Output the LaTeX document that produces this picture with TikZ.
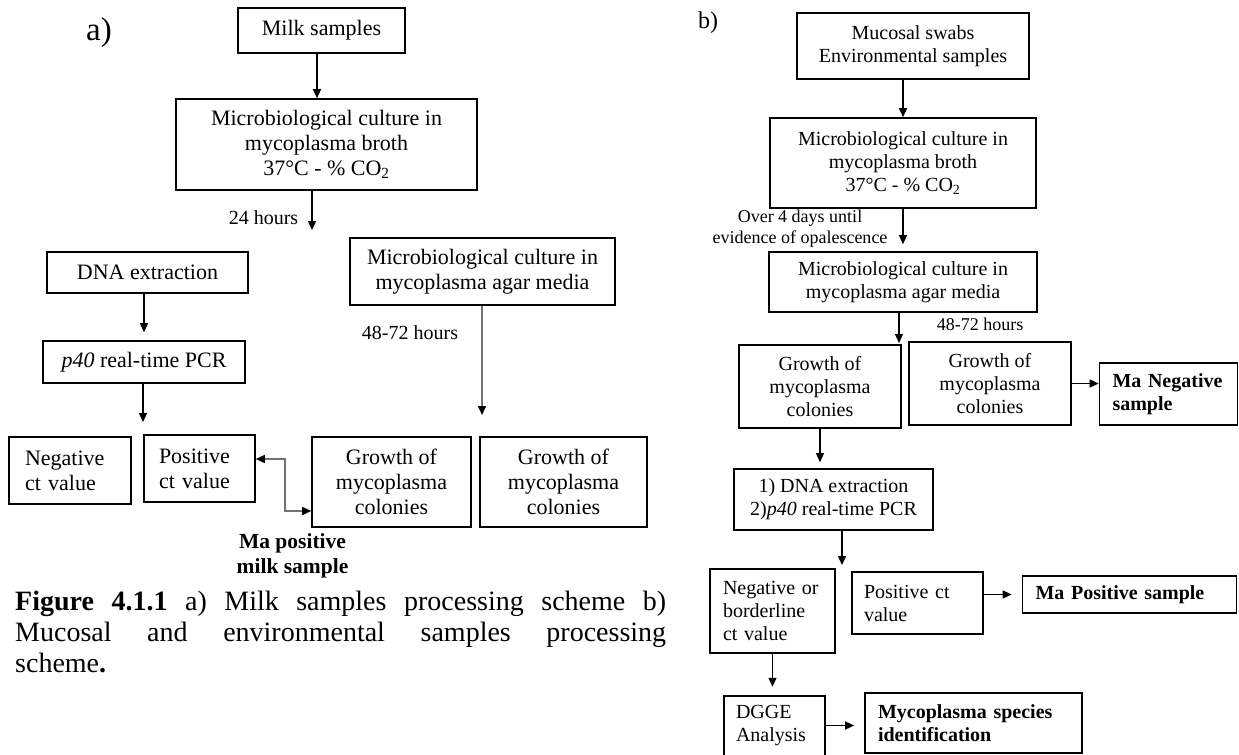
\documentclass[tikz,border=0pt]{standalone}
\usepackage{fontspec}
\setmainfont{Liberation Serif}
\usetikzlibrary{arrows.meta,calc}
\newcommand\szA{\fontsize{22bp}{25bp}\selectfont}
\newcommand\szB{\fontsize{20bp}{23bp}\selectfont}
\newcommand\szL{\fontsize{20bp}{22bp}\selectfont}
\newcommand\szS{\fontsize{18bp}{21bp}\selectfont}
\newcommand\szC{\fontsize{28bp}{31bp}\selectfont}
\begin{document}
\begin{tikzpicture}[x=1bp,y=-1bp,
  box/.style={draw, line width=1.6bp, inner sep=0pt, align=center},
  boxa/.style={box, font=\szA},
  boxb/.style={box, font=\szB},
  lbox/.style={draw, line width=1.6bp, inner ysep=0pt, align=left},
  arr/.style={-{Triangle[length=9bp,width=8bp]}, line width=1.3bp},
  garr/.style={-{Triangle[length=9bp,width=8bp,color=black]}, line width=1.6bp, draw=black!55},
  dblarr/.style={{Triangle[length=9bp,width=8bp,color=black]}-{Triangle[length=9bp,width=8bp,color=black]}, line width=1.6bp, draw=black!55},
  lbl/.style={inner sep=0pt, align=center},
  capl/.style={inner sep=0pt, anchor=base west, font=\szC}
]
\fill[white] (0,0) rectangle (1239,755);
\useasboundingbox (0,0) rectangle (1239,755);

% ---------------- panel a ----------------
\node[lbl, font=\fontsize{33bp}{36bp}\selectfont] (la) at (99,33) {a)};
\node[boxa, minimum width=167bp, minimum height=45bp] (milk) at (321.5,30.5) {Milk samples};
\node[boxa, minimum width=301bp, minimum height=91bp] (brothA) at (326.5,144.5)
  {Microbiological culture in\\mycoplasma broth\\37°C - \% CO\textsubscript{2}};
\draw[arr] (milk.south -| 317,0) -- (brothA.north -| 317,0);
\coordinate (t24) at (312,230);
\draw[arr] (brothA.south -| t24) -- (t24);
\node[lbl, font=\szL] (l24) at (263.5,218) {24 hours};

\node[boxa, minimum width=265bp, minimum height=67bp] (agarA) at (482.5,271.5)
  {Microbiological culture in\\mycoplasma agar media};
\coordinate (tAg) at (482,415);
\draw[garr] (agarA.south -| tAg) -- (tAg);
\node[lbl, font=\szL] (l4872a) at (410,333) {48-72 hours};

\node[boxa, minimum width=201bp, minimum height=41bp] (dnaA) at (147.5,272.5) {DNA extraction};
\node[boxa, minimum width=202bp, minimum height=42bp] (p40A) at (144,362) {\textit{p40} real-time PCR};
\draw[arr, shorten >=8bp] (dnaA.south -| p40A.north) -- (p40A.north);
\coordinate (tP40) at (143,422);
\draw[arr] (p40A.south -| tP40) -- (tP40);

\node[lbox, font=\szA, inner xsep=16bp, text width=90bp, minimum height=67bp] (negA) at (70,470.5) {Negative\\ct value};
\node[lbox, font=\szA, inner xsep=15bp, text width=81bp, minimum height=67bp] (posA) at (199.5,468.5) {Positive\\ct value};
\node[boxa, minimum width=159bp, minimum height=90bp] (growA1) at (391.5,482) {Growth of\\mycoplasma\\colonies};
\node[boxa, minimum width=167bp, minimum height=90bp] (growA2) at (563.5,482) {Growth of\\mycoplasma\\colonies};
\draw[dblarr] ($(posA.east)+(0,-9.5)$) -- ++(29,0) |- ($(growA1.west)+(0,29)$);
\node[lbl, font=\fontsize{21.5bp}{25bp}\selectfont\bfseries] (maposA) at (292.5,555.5) {Ma positive\\milk sample};

% caption
\node[capl] (cap1) at (15,610) {\makebox[651bp][s]{\textbf{Figure 4.1.1} a) Milk samples processing scheme b)}};
\node[capl] (cap2) at (15,641) {\makebox[651bp][s]{Mucosal and environmental samples processing}};
\node[capl] (cap3) at (15,672) {scheme\textbf{.}};

% ---------------- panel b ----------------
\node[lbl, font=\fontsize{24bp}{26bp}\selectfont] (lb) at (708,23) {b)};
\node[boxb, minimum width=232bp, minimum height=66bp] (muc) at (913,46) {Mucosal swabs\\Environmental samples};
\node[boxb, minimum width=266bp, minimum height=90bp] (brothB) at (903,163)
  {Microbiological culture in\\mycoplasma broth\\37°C - \% CO\textsubscript{2}};
\draw[arr] (muc.south -| brothB.north) -- (brothB.north);
\node[boxb, minimum width=268bp, minimum height=60bp] (agarB) at (903,282)
  {Microbiological culture in\\mycoplasma agar media};
\draw[arr, shorten >=7bp] (brothB.south -| agarB.north) -- (agarB.north);
\node[lbl, font=\szS] (over4) at (800,229) {Over 4 days until\\evidence of opalescence};
\node[lbl, font=\szS] (l4872b) at (980,324) {48-72 hours};

\node[boxb, minimum width=162bp, minimum height=83bp] (growB1) at (820,386.5) {Growth of\\mycoplasma\\colonies};
\node[boxb, minimum width=162bp, minimum height=83bp] (growB2) at (990,383.5) {Growth of\\mycoplasma\\colonies};
\coordinate (tB) at (899,343);
\draw[arr] (agarB.south -| tB) -- (tB);
\node[lbox, font=\szB\bfseries, inner xsep=13bp, text width=112bp, minimum height=62bp] (negB) at (1168.5,394) {Ma Negative\\sample};
\draw[arr] (growB2.east) -- (growB2.east -| negB.west);

\node[boxb, minimum width=199bp, minimum height=61bp] (dnaB) at (833.5,499.5) {1) DNA extraction\\2)\textit{p40} real-time PCR};
\draw[arr, shorten >=6bp] (growB1.south) -- (growB1.south |- dnaB.north);
\coordinate (tD) at (842,565);
\draw[arr] (dnaB.south -| tD) -- (tD);

\node[lbox, font=\szB, inner xsep=13bp, text width=99bp, minimum height=84bp] (negB2) at (772.5,611) {Negative or\\borderline\\ct value};
\node[lbox, font=\szB, inner xsep=12bp, text width=107bp, minimum height=62bp] (posB) at (917.5,603) {Positive ct\\value};
\node[lbox, font=\szB\bfseries, inner xsep=13bp, text width=188bp, minimum height=37bp] (maPos) at (1129.5,594.5) {Ma Positive sample};
\draw[arr, shorten >=10bp] (posB.east |- maPos.west) -- (maPos.west);

\node[inner xsep=12bp, inner ysep=0pt, text width=77bp, minimum height=59bp, align=left, font=\szB] (dgge) at (774.5,725.5) {DGGE\\Analysis};
\draw[line width=1.6bp] (dgge.south west) -- (dgge.north west) -- (dgge.north east) -- (dgge.south east);
\draw[arr, shorten >=9bp] (negB2.south) -- (negB2.south |- dgge.north);
\node[lbox, font=\szB\bfseries, inner xsep=13bp, text width=191bp, minimum height=60bp] (myco) at (973.5,723) {Mycoplasma species\\identification};
\draw[arr, shorten >=10bp] (dgge.east) -- (dgge.east -| myco.west);
\end{tikzpicture}
\end{document}
